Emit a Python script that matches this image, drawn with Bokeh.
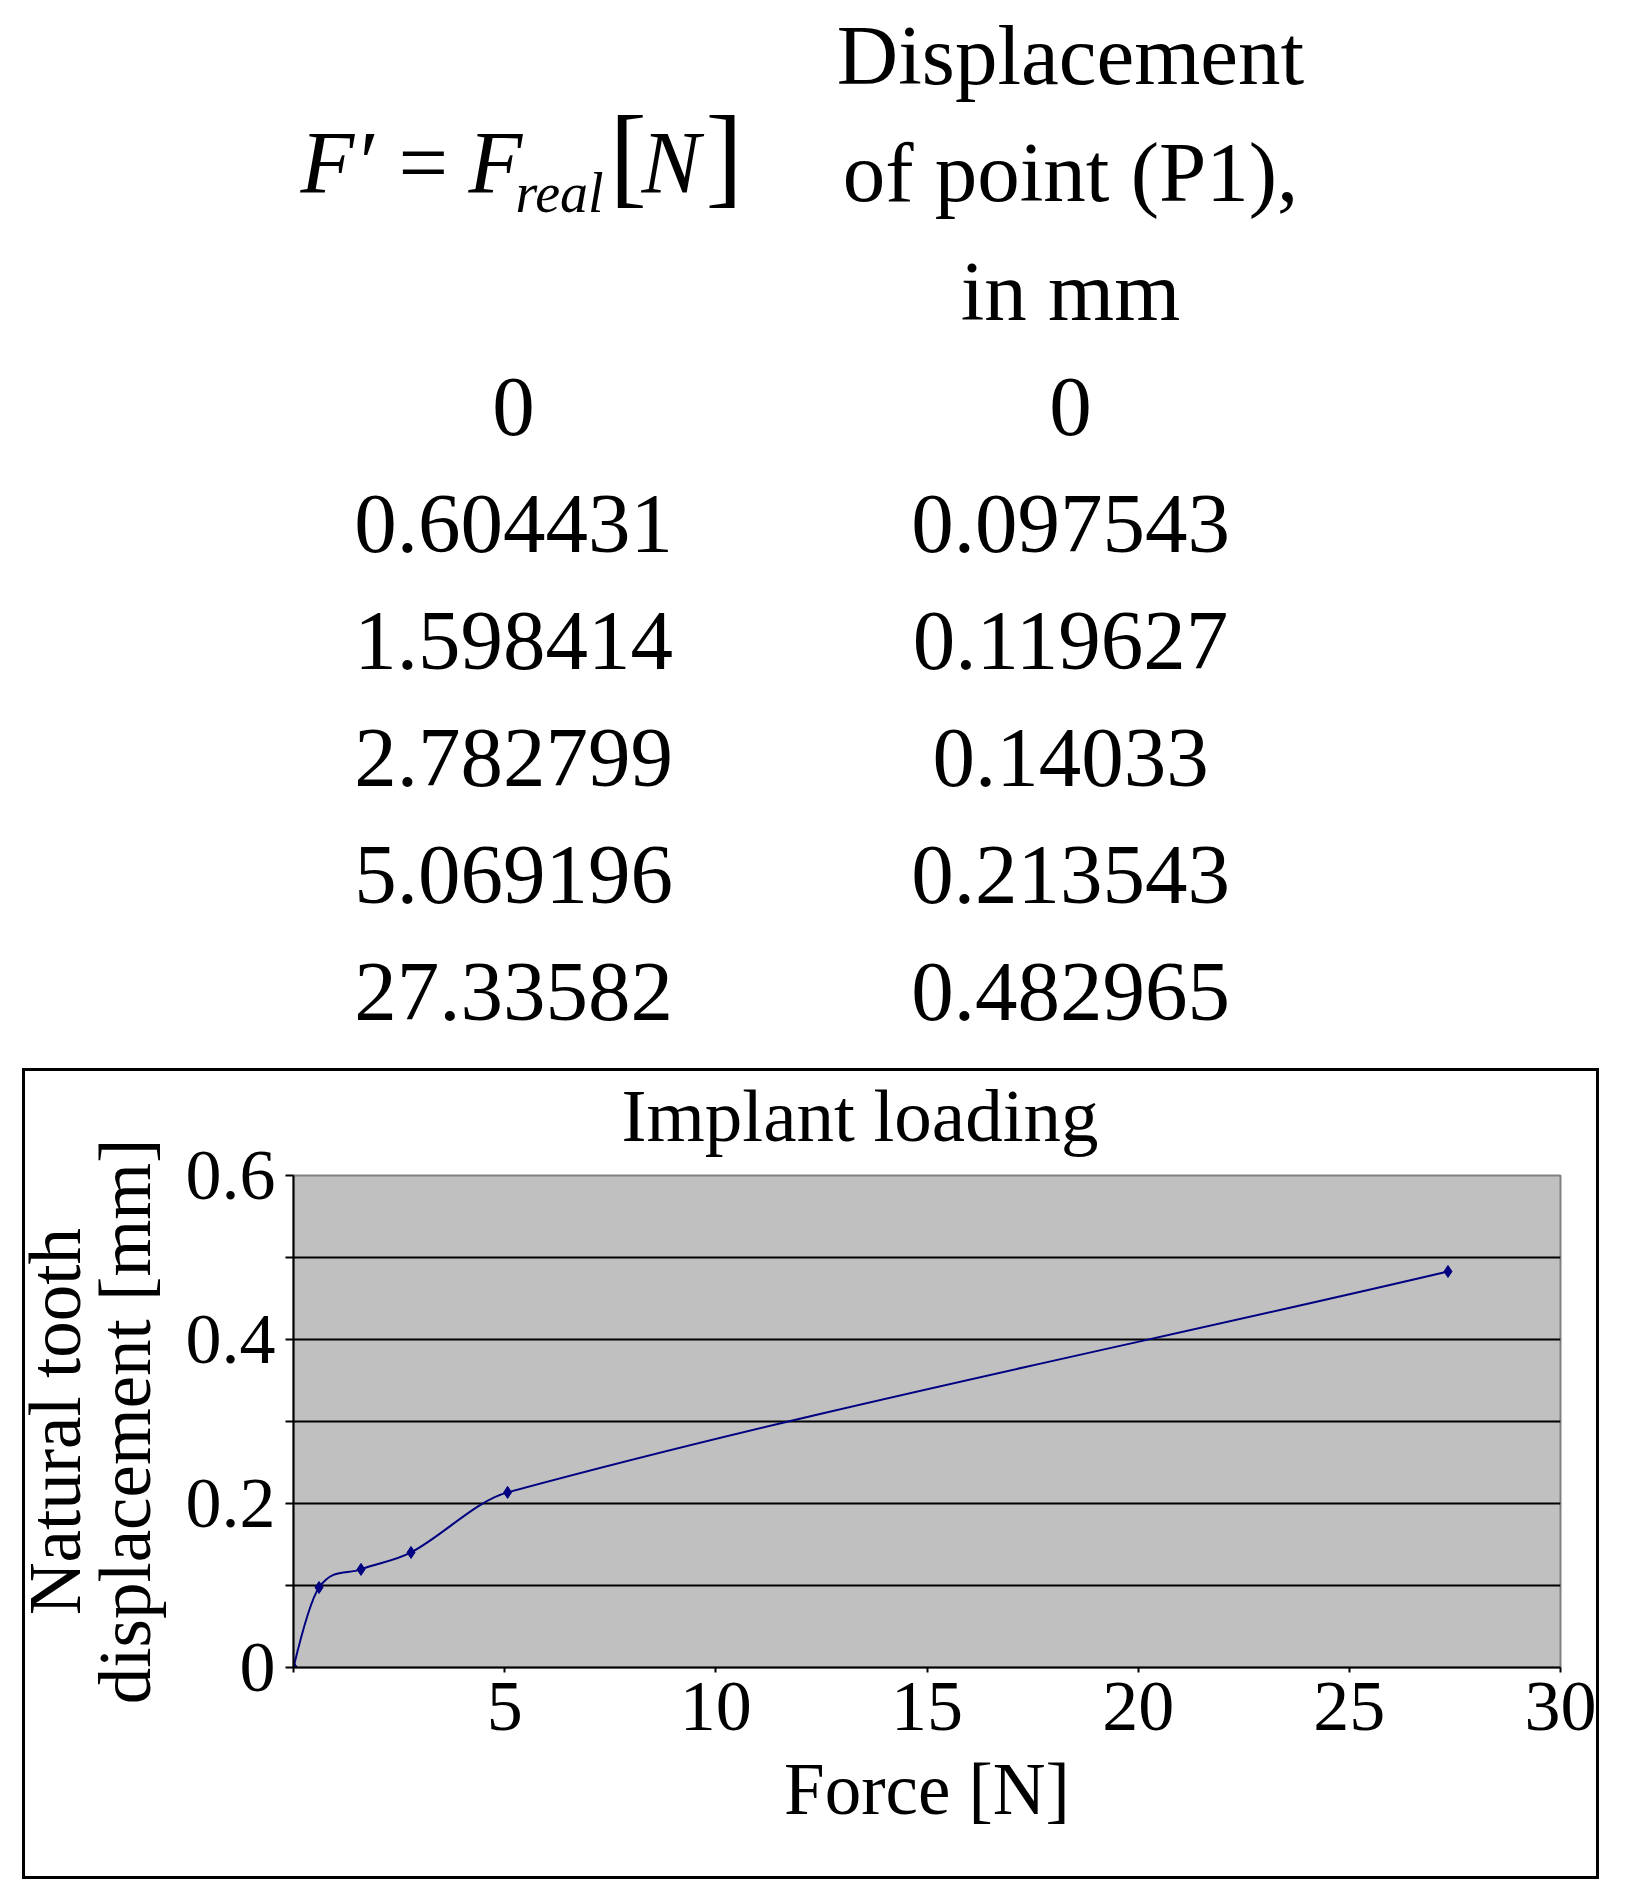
from bokeh.plotting import figure
from bokeh.models import Range1d, FixedTicker, Spacer
from bokeh.layouts import column, row
from bokeh.core.properties import value
from bokeh.embed import file_html
from bokeh.resources import INLINE

# ---- data ----
force = [0, 0.604431, 1.598414, 2.782799, 5.069196, 27.33582]
disp = [0, 0.097543, 0.119627, 0.14033, 0.213543, 0.482965]
x_ticks = [0, 5, 10, 15, 20, 25, 30]
y_ticks = [0, 0.2, 0.4, 0.6]
y_minor = [0.1, 0.3, 0.5]
grid_vals = [0.1, 0.2, 0.3, 0.4, 0.5]
col2_header = ["Displacement", "of point (P1),", "in mm"]
chart_title = "Implant loading"
x_label = "Force [N]"
y_label = "Natural tooth\ndisplacement [mm]"

FONT = "Liberation Serif"
NAVY = "#000080"

# ---------------- table (top part) ----------------
TW, TH = 1629, 1068
top = figure(width=TW, height=TH, output_backend="svg", toolbar_location=None,
             x_range=Range1d(0, TW), y_range=Range1d(TH, 0),
             x_axis_type=None, y_axis_type=None, min_border=0)
top.grid.visible = False
top.outline_line_color = None
top.border_fill_color = "white"
top.background_fill_color = "white"


def txt(xs, ys, texts, size_px, align="center", style="normal"):
    shift = 0.35 * size_px
    top.text(x=xs, y=[y - shift for y in ys], text=texts, text_font=value(FONT),
             text_font_size=value(f"{size_px}px"), text_font_style=value(style),
             text_align=value(align), text_baseline=value("alphabetic"),
             text_color="black")


# header: F' = F_real [N]
txt([300], [193], ["F\u2032"], 88, "left", "italic")
txt([398], [193], ["="], 88, "left")
txt([468], [193], ["F"], 88, "left", "italic")
txt([515], [212], ["real"], 56, "left", "italic")
txt([609], [194], ["["], 112, "left")
txt([641], [193], ["N"], 88, "left", "italic")
txt([705], [194], ["]"], 112, "left")

# header column 2
txt([1070] * 3, [84, 201, 320], col2_header, 85)

# table rows
row_base = [436 + 117 * i for i in range(len(force))]
txt([513] * len(force), row_base, [str(f) for f in force], 85)
txt([1070] * len(disp), row_base, [str(d) for d in disp], 85)

# ---------------- chart ----------------
IW, IH = 1571, 805          # inside of the black chart border
SL, ST = 15, 20             # canvas extends under the left / top border bars
CW, CH = IW + SL, IH + ST
p = figure(width=CW, height=CH, output_backend="svg", toolbar_location=None,
           x_range=Range1d(0, 30), y_range=Range1d(0, 0.6),
           min_border_left=268 + SL, min_border_right=36,
           min_border_top=104 + ST, min_border_bottom=209,
           styles={"margin-top": f"-{ST}px", "position": "relative",
                   "left": f"-{SL}px"})
p.background_fill_color = "#C0C0C0"
p.border_fill_color = None
p.outline_line_color = "#808080"
p.outline_line_width = 2

p.title.text = chart_title
p.title.text_font = FONT
p.title.text_font_size = "75px"
p.title.text_font_style = "normal"
p.title.text_color = "black"
p.title.align = "left"
p.title.offset = 328
p.title.standoff = 38

for ax in (p.xaxis[0], p.yaxis[0]):
    ax.axis_line_color = "black"
    ax.axis_line_width = 2
    ax.major_tick_line_color = "black"
    ax.major_tick_line_width = 2
    ax.minor_tick_line_color = "black"
    ax.minor_tick_line_width = 2
    ax.major_tick_in = 0
    ax.minor_tick_in = 0
    ax.major_label_text_font = FONT
    ax.major_label_text_font_size = "72px"
    ax.major_label_text_color = "black"
    ax.axis_label_text_font = FONT
    ax.axis_label_text_font_size = "73px"
    ax.axis_label_text_font_style = "normal"
    ax.axis_label_text_color = "black"

p.xaxis.ticker = FixedTicker(ticks=x_ticks)
p.xaxis.major_label_overrides = {0: ""}
p.xaxis.major_tick_out = 5
p.xaxis.minor_tick_out = 0
p.xaxis.major_label_standoff = 10
p.xaxis.axis_label = x_label
p.xaxis.axis_label_standoff = 16

p.yaxis.ticker = FixedTicker(ticks=y_ticks, minor_ticks=y_minor)
p.yaxis.major_label_overrides = {v: ("0" if v == 0 else str(v)) for v in y_ticks}
p.yaxis.major_tick_out = 8
p.yaxis.minor_tick_out = 8
p.yaxis.major_label_standoff = 10
p.yaxis.axis_label = y_label
p.yaxis.axis_label_standoff = 17
p.yaxis.axis_label_text_line_height = 0.86

p.xgrid.visible = False
p.ygrid.ticker = FixedTicker(ticks=grid_vals)
p.ygrid.grid_line_color = "black"
p.ygrid.grid_line_width = 2

# smoothed series: cubic Hermite segments (chord tangents) drawn as Bezier curves
n = len(force)
h = [force[i + 1] - force[i] for i in range(n - 1)]
d = [(disp[i + 1] - disp[i]) / h[i] for i in range(n - 1)]
m = [0.0] * n
for i in range(1, n - 1):
    m[i] = (disp[i + 1] - disp[i - 1]) / (force[i + 1] - force[i - 1])
m0 = ((2 * h[0] + h[1]) * d[0] - h[0] * d[1]) / (h[0] + h[1])
m[0] = min(max(m0, 0.0), 3 * d[0])
m[-1] = d[-1]

bx0, by0, bx1, by1, bcx0, bcy0, bcx1, bcy1 = [], [], [], [], [], [], [], []
for i in range(n - 1):
    bx0.append(force[i]); by0.append(disp[i])
    bx1.append(force[i + 1]); by1.append(disp[i + 1])
    bcx0.append(force[i] + h[i] / 3); bcy0.append(disp[i] + m[i] * h[i] / 3)
    bcx1.append(force[i + 1] - h[i] / 3); bcy1.append(disp[i + 1] - m[i + 1] * h[i] / 3)
p.bezier(x0=bx0, y0=by0, x1=bx1, y1=by1, cx0=bcx0, cy0=bcy0, cx1=bcx1, cy1=bcy1,
         line_color=NAVY, line_width=2)
p.scatter(force, disp, marker="diamond", size=12, color=NAVY)

# chart area border (black frame around the chart)
BLK = {"background-color": "black"}
right_bar = Spacer(width=3, height=IH,
                   styles={"background-color": "black", "position": "relative",
                           "left": f"-{SL}px"})
box = column(
    Spacer(width=IW + 6, height=3, styles=BLK),
    row(Spacer(width=3, height=IH, styles=BLK), p, right_bar),
    Spacer(width=IW + 6, height=3, styles=BLK),
)

layout = column(top, row(Spacer(width=22, height=IH + 6), box))
open("out.html", "w").write(file_html(layout, INLINE))
